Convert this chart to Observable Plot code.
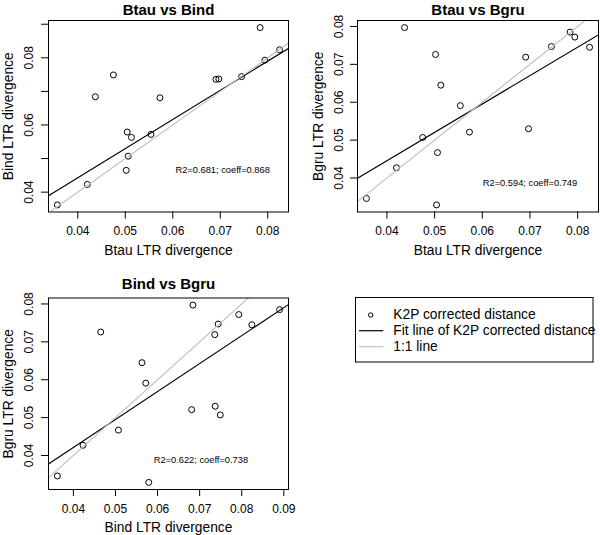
<!DOCTYPE html>
<html>
<head>
<meta charset="utf-8">
<script src="https://cdn.jsdelivr.net/npm/d3@7"></script>
<script src="https://cdn.jsdelivr.net/npm/@observablehq/plot@0.6"></script>
<style>
  html, body { margin: 0; padding: 0; background: white; }
  #wrap { position: relative; width: 600px; height: 535px; background: white; overflow: hidden; }
  #wrap > * { position: absolute; }
</style>
</head>
<body>
<div id="wrap"></div>
<script>
// ---- data ----
const Btau = [0.0357, 0.0420, 0.0437, 0.0475, 0.0502, 0.0504, 0.0506, 0.0513, 0.0554, 0.0573, 0.0691, 0.0697, 0.0745, 0.0784, 0.0794, 0.0825];
const Bind = [0.0362, 0.0423, 0.0684, 0.0749, 0.0465, 0.0579, 0.0507, 0.0563, 0.0572, 0.0681, 0.0736, 0.0737, 0.0744, 0.0890, 0.0793, 0.0824];
const Bgru = [0.0346, 0.0427, 0.0797, 0.0507, 0.0726, 0.0329, 0.0467, 0.0645, 0.0591, 0.0521, 0.0719, 0.0530, 0.0747, 0.0785, 0.0772, 0.0745];

const titles = ["Btau vs Bind", "Btau vs Bgru", "Bind vs Bgru"];
const xLabels = ["Btau LTR divergence", "Btau LTR divergence", "Bind LTR divergence"];
const yLabels = ["Bind LTR divergence", "Bgru LTR divergence", "Bgru LTR divergence"];

const fitSlope = [0.868, 0.749, 0.738];
const fitIntercept = [0.00957, 0.0146, 0.0126];
const statText = ["R2=0.681; coeff=0.868", "R2=0.594; coeff=0.749", "R2=0.622; coeff=0.738"];
const statX = [0.0705, 0.0700, 0.0703];
const statY = [0.0466, 0.0387, 0.0387];

const xTicks1 = [0.04, 0.05, 0.06, 0.07, 0.08];
const yTicks1 = [0.04, 0.05, 0.06, 0.07, 0.08, 0.09];
const yTickLabels1 = [0.04, 0.06, 0.08];
const xTicks2 = [0.04, 0.05, 0.06, 0.07, 0.08];
const yTicks2 = [0.04, 0.05, 0.06, 0.07, 0.08];
const yTickLabels2 = [0.04, 0.05, 0.06, 0.07, 0.08];
const xTicks3 = [0.04, 0.05, 0.06, 0.07, 0.08, 0.09];
const yTicks3 = [0.04, 0.05, 0.06, 0.07, 0.08];
const yTickLabels3 = [0.04, 0.05, 0.06, 0.07, 0.08];

const legendLabels = ["K2P corrected distance", "Fit line of K2P corrected distance", "1:1 line"];

// ---- drawing ----
const FONT = "'Liberation Sans', Arial, Helvetica, sans-serif";
const fmt = d3.format(".2f");
const pad = ([a, b]) => [a - (b - a) * 0.04, b + (b - a) * 0.04];
const wrap = document.getElementById("wrap");

function panel(i, xs, ys, xTicks, yTicks, yTickLabels, geom) {
  const data = xs.map((x, j) => ({x, y: ys[j]}));
  const xd = pad(d3.extent(xs));
  const yd = pad(d3.extent(ys));
  const fit = xd.map(x => ({x, y: fitIntercept[i] + fitSlope[i] * x}));
  const one = xd.map(x => ({x, y: x}));
  const chart = Plot.plot({
    width: geom.width, height: geom.height,
    marginLeft: geom.ml, marginRight: geom.mr, marginTop: geom.mt, marginBottom: geom.mb,
    x: {domain: xd},
    y: {domain: yd},
    style: {fontFamily: FONT, fontSize: "12px", color: "black", background: "white", overflow: "visible"},
    marks: [
      Plot.dot(data, {x: "x", y: "y", r: 3, stroke: "black", strokeWidth: 1, fill: "none"}),
      Plot.line(fit, {x: "x", y: "y", stroke: "black", strokeWidth: 1.2, clip: true}),
      Plot.line(one, {x: "x", y: "y", stroke: "#bdbdbd", strokeWidth: 1.1, clip: true}),
      Plot.frame({stroke: "black", strokeWidth: 1}),
      Plot.axisX({ticks: xTicks, tickFormat: () => "", tickSize: 7, label: null, stroke: "black"}),
      Plot.axisY({ticks: yTicks, tickFormat: () => "", tickSize: 7, label: null, stroke: "black"}),
      Plot.text(xTicks, {x: d => d, text: d => fmt(d), frameAnchor: "bottom", dy: 19.5, fontSize: 12, lineAnchor: "middle", textAnchor: "middle"}),
      Plot.text(yTickLabels, {y: d => d, text: d => fmt(d), frameAnchor: "left", dx: -geom.ytl, rotate: -90, fontSize: 12, lineAnchor: "middle", textAnchor: "middle"}),
      Plot.text([titles[i]], {text: d => d, frameAnchor: "top", dy: geom.tdy, fontSize: 15, fontWeight: "bold", lineAnchor: "bottom", textAnchor: "middle"}),
      Plot.text([xLabels[i]], {text: d => d, frameAnchor: "bottom", dy: 42.5, fontSize: 13.8, lineAnchor: "bottom", textAnchor: "middle"}),
      Plot.text([yLabels[i]], {text: d => d, frameAnchor: "left", dx: -geom.ylt, rotate: -90, fontSize: 13.8, lineAnchor: "middle", textAnchor: "middle"}),
      Plot.text([statText[i]], {text: d => d, x: () => statX[i], y: () => statY[i], fontSize: 9.3, lineAnchor: "middle", textAnchor: "middle"})
    ]
  });
  chart.style.left = geom.left + "px";
  chart.style.top = geom.top + "px";
  wrap.appendChild(chart);
}

panel(0, Btau, Bind, xTicks1, yTicks1, yTickLabels1,
  {left: 0, top: 0, width: 300, height: 265, ml: 48, mr: 12, mt: 20, mb: 53.5, tdy: -6, ytl: 19, ylt: 40});
panel(1, Btau, Bgru, xTicks2, yTicks2, yTickLabels2,
  {left: 300, top: 0, width: 300, height: 265, ml: 57, mr: 2, mt: 20, mb: 53.5, tdy: -5.5, ytl: 18, ylt: 38.5});
panel(2, Bind, Bgru, xTicks3, yTicks3, yTickLabels3,
  {left: 0, top: 265, width: 300, height: 270, ml: 48, mr: 12, mt: 32.5, mb: 46, tdy: -9.2, ytl: 19, ylt: 40});

// ---- legend ----
const lg = d3.create("svg").attr("width", 300).attr("height", 270)
  .style("left", "300px").style("top", "265px").style("font-family", FONT);
lg.append("rect").attr("x", 55.5).attr("y", 32.5).attr("width", 237.5).attr("height", 64.5)
  .attr("fill", "white").attr("stroke", "black").attr("stroke-width", 1);
lg.append("circle").attr("cx", 70.7).attr("cy", 50).attr("r", 2.2)
  .attr("fill", "none").attr("stroke", "black").attr("stroke-width", 1);
lg.append("line").attr("x1", 59).attr("x2", 83.3).attr("y1", 65.7).attr("y2", 65.7)
  .attr("stroke", "black").attr("stroke-width", 1.2);
lg.append("line").attr("x1", 59).attr("x2", 83.3).attr("y1", 81.7).attr("y2", 81.7)
  .attr("stroke", "#bdbdbd").attr("stroke-width", 1.1);
legendLabels.forEach((t, k) => {
  lg.append("text").attr("x", 93.3).attr("y", 54.3 + 16 * k)
    .attr("font-size", 13.8).attr("fill", "black").text(t);
});
wrap.appendChild(lg.node());
</script>
</body>
</html>
